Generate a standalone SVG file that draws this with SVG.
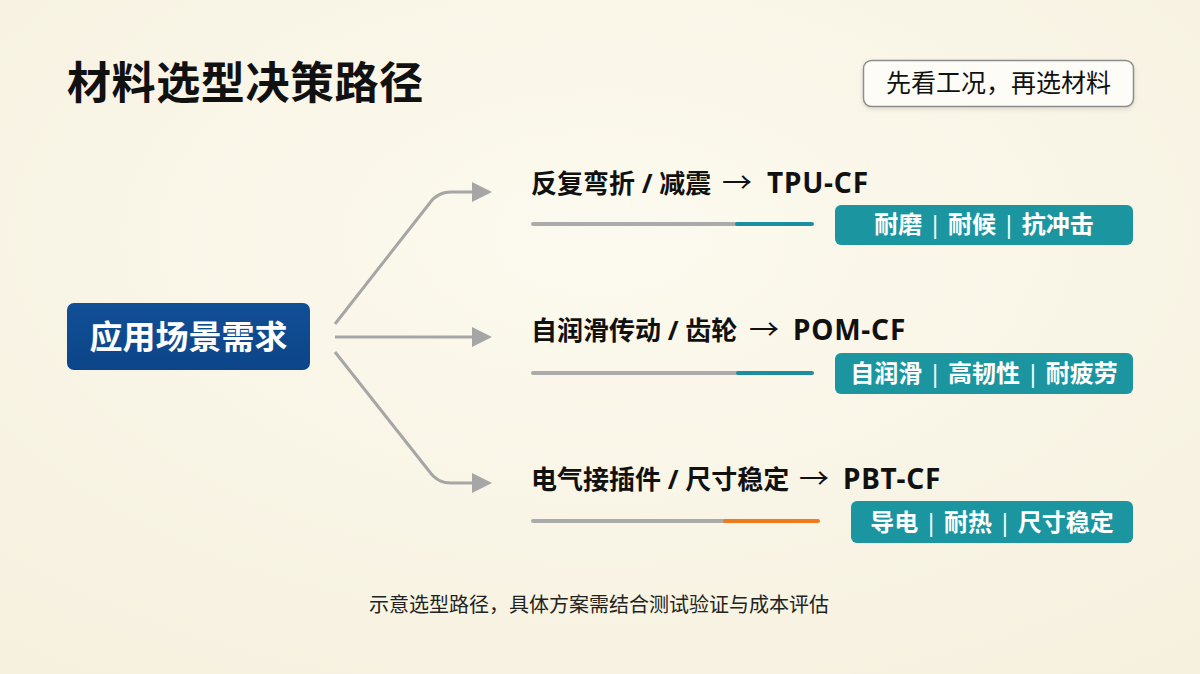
<svg xmlns="http://www.w3.org/2000/svg" width="1200" height="674" viewBox="0 0 1200 674">
  <defs>
    <radialGradient id="bg" cx="0.5" cy="0.35" r="0.8">
      <stop offset="0" stop-color="#fcfaef"/>
      <stop offset="1" stop-color="#f6f0de"/>
    </radialGradient>
    <linearGradient id="navy" x1="0" y1="0" x2="0" y2="1">
      <stop offset="0" stop-color="#114f96"/>
      <stop offset="1" stop-color="#0c4588"/>
    </linearGradient>
    <marker id="ah" viewBox="0 0 20 20" refX="2" refY="10" markerWidth="20" markerHeight="20" markerUnits="userSpaceOnUse" orient="auto">
      <path d="M0,0 L20,10 L0,20 z" fill="#a6a6a6"/>
    </marker>
    <filter id="sh" x="-10%" y="-20%" width="120%" height="150%">
      <feDropShadow dx="0" dy="2" stdDeviation="2" flood-color="#000" flood-opacity="0.12"/>
    </filter>
  </defs>
  <style>
    text { font-family: "Noto Sans", "Noto Sans CJK SC", sans-serif; }
    .title { font-size: 44px; font-weight: 700; fill: #111; letter-spacing: 0.6px; }
    .note { font-size: 25px; fill: #111; }
    .lbl { font-size: 26px; font-weight: 700; fill: #111; }
    .arr { font-family: "Noto Sans CJK SC", sans-serif; font-weight: 400; font-size: 28px; }
    .lat { font-size: 28px; letter-spacing: 0.8px; }
    .tag { fill: #1b96a0; }
    .tagt { font-size: 24px; font-weight: 700; fill: #fff; text-anchor: middle; }
    .sep { font-weight: 400; }
    .conn { fill: none; stroke: #a6a6a6; stroke-width: 3; stroke-linejoin: round; }
    .gl { stroke: #ababab; stroke-width: 4; stroke-linecap: round; }
    .tl { stroke: #1a8fa0; stroke-width: 4; stroke-linecap: round; }
    .ol { stroke: #f07b1c; stroke-width: 4; stroke-linecap: round; }
    .foot { font-size: 20px; fill: #222; text-anchor: middle; }
  </style>
  <rect x="0" y="0" width="1200" height="674" fill="url(#bg)"/>

  <text class="title" x="67" y="99">材料选型决策路径</text>

  <g id="note">
    <rect x="863.5" y="60.5" width="270" height="46" rx="8" fill="#fdfcf7" stroke="#8c8c8c" stroke-width="1.5" filter="url(#sh)"/>
    <text class="note" x="998.5" y="92" text-anchor="middle">先看工况，再选材料</text>
  </g>

  <g id="root">
    <rect x="67" y="303" width="243" height="67" rx="7" fill="url(#navy)"/>
    <text x="188.5" y="349" font-size="33" font-weight="700" fill="#fff" text-anchor="middle">应用场景需求</text>
  </g>

  <g id="connectors">
    <path class="conn" d="M335,324 L429,204 Q437,192 451,192 L474,192" marker-end="url(#ah)"/>
    <path class="conn" d="M335,337 L474,337" marker-end="url(#ah)"/>
    <path class="conn" d="M335,352 L429,471 Q437,483 451,483 L474,483" marker-end="url(#ah)"/>
  </g>

  <g id="branch-tpu">
    <text class="lbl" x="531" y="193">反复弯折 / 减震<tspan class="arr" x="722" textLength="30" lengthAdjust="spacingAndGlyphs">→</tspan><tspan class="lat" x="767">TPU-CF</tspan></text>
    <line class="gl" x1="533" y1="224" x2="737" y2="224"/>
    <line class="tl" x1="737" y1="224" x2="812" y2="224"/>
    <rect class="tag" x="835" y="205" width="298" height="40" rx="6"/>
    <text class="tagt" x="984" y="233">耐磨 <tspan class="sep">|</tspan> 耐候 <tspan class="sep">|</tspan> 抗冲击</text>
  </g>

  <g id="branch-pom">
    <text class="lbl" x="531" y="340">自润滑传动 / 齿轮<tspan class="arr" x="749" textLength="30" lengthAdjust="spacingAndGlyphs">→</tspan><tspan class="lat" x="793">POM-CF</tspan></text>
    <line class="gl" x1="533" y1="373" x2="738" y2="373"/>
    <line class="tl" x1="738" y1="373" x2="812" y2="373"/>
    <rect class="tag" x="835" y="353" width="298" height="41" rx="6"/>
    <text class="tagt" x="984" y="382">自润滑 <tspan class="sep">|</tspan> 高韧性 <tspan class="sep">|</tspan> 耐疲劳</text>
  </g>

  <g id="branch-pbt">
    <text class="lbl" x="531" y="489">电气接插件 / 尺寸稳定<tspan class="arr" x="799" textLength="30" lengthAdjust="spacingAndGlyphs">→</tspan><tspan class="lat" x="843">PBT-CF</tspan></text>
    <line class="gl" x1="533" y1="521" x2="725" y2="521"/>
    <line class="ol" x1="725" y1="521" x2="818" y2="521"/>
    <rect class="tag" x="851" y="501" width="282" height="42" rx="6"/>
    <text class="tagt" x="992" y="531">导电 <tspan class="sep">|</tspan> 耐热 <tspan class="sep">|</tspan> 尺寸稳定</text>
  </g>

  <text class="foot" x="599" y="612">示意选型路径，具体方案需结合测试验证与成本评估</text>
</svg>
